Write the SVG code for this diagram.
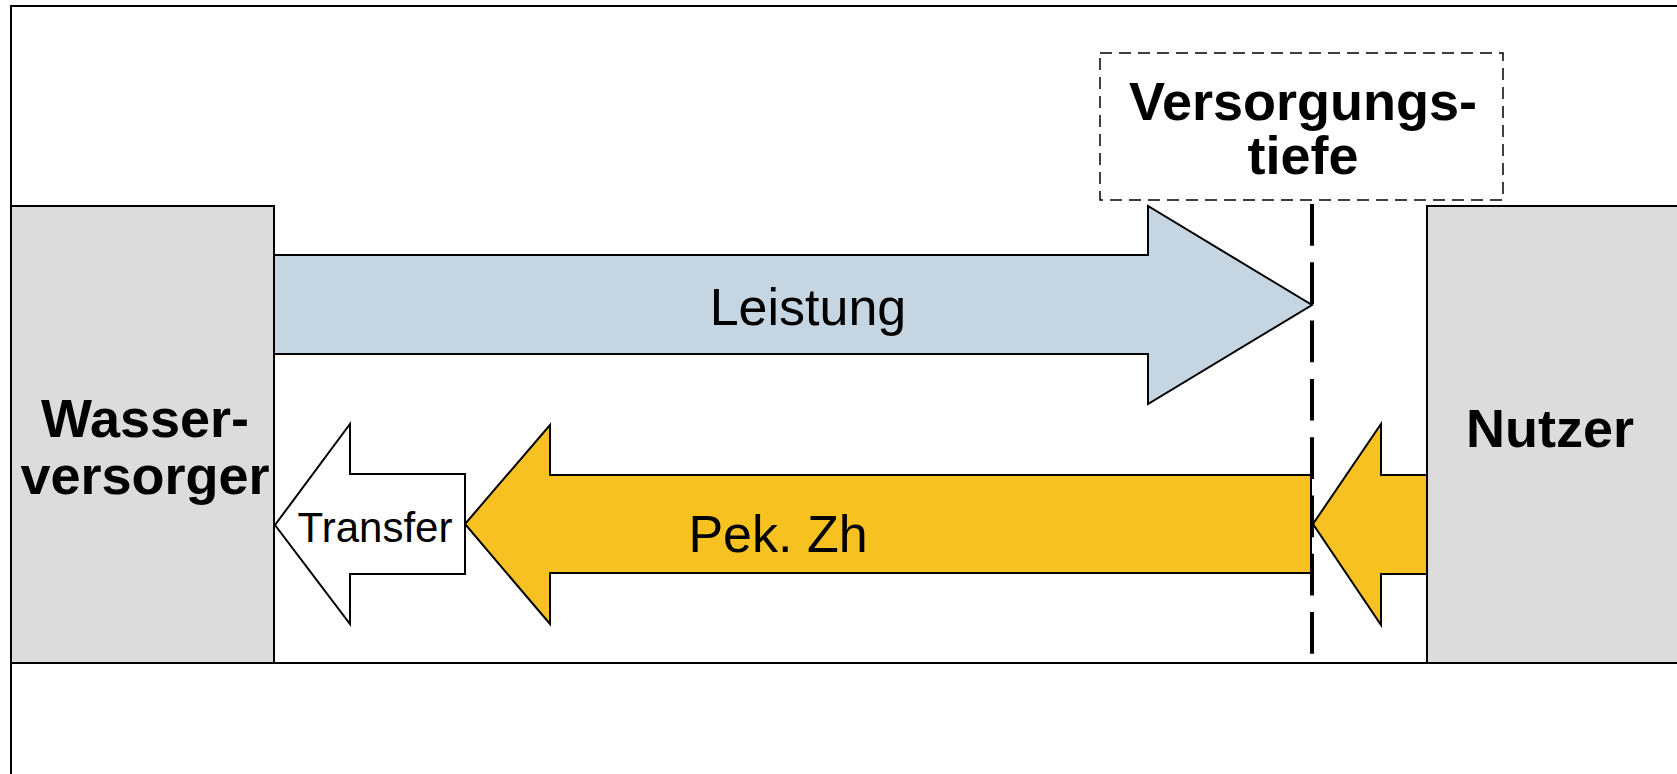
<svg xmlns="http://www.w3.org/2000/svg" width="1677" height="774" viewBox="0 0 1677 774">
<style>
.frame{fill:none;stroke:#000;stroke-width:2}
.box{fill:#dcdcdc;stroke:#000;stroke-width:2}
.arr{stroke:#000;stroke-width:2;stroke-linejoin:miter}
.bold{font-family:"Liberation Sans",Arial,sans-serif;font-weight:bold;font-size:54px;fill:#000;text-anchor:middle}
.reg{font-family:"Liberation Sans",Arial,sans-serif;font-size:52px;fill:#000;text-anchor:middle}
</style>
<rect width="1677" height="774" fill="#fff"/>
<g id="frame">
<path class="frame" d="M11,774 V6 H1677"/>
<line class="frame" x1="11" y1="663" x2="1677" y2="663"/>
</g>
<g id="wasserversorger">
<rect class="box" x="11" y="206" width="263" height="457"/>
<text class="bold" x="145" y="437">Wasser-</text>
<text class="bold" x="145" y="494">versorger</text>
</g>
<g id="nutzer">
<rect class="box" x="1427" y="206" width="260" height="457"/>
<text class="bold" x="1550" y="447">Nutzer</text>
</g>
<g id="versorgungstiefe">
<rect x="1100" y="53" width="403" height="147" fill="#fff" stroke="#000" stroke-width="1.5" stroke-dasharray="12 7"/>
<text class="bold" x="1303" y="120">Versorgungs-</text>
<text class="bold" x="1303" y="174">tiefe</text>
</g>
<g id="connectors">
<g id="leistung">
<polygon class="arr" fill="#c5d5e2" points="274,255 1148,255 1148,206 1312,305 1148,404 1148,354 274,354"/>
<text class="reg" x="808" y="325">Leistung</text>
</g>
<g id="pek-zh">
<polygon class="arr" fill="#f6c121" points="1311,475 550,475 550,425 465,524 550,624 550,573 1311,573"/>
<text class="reg" x="778" y="552">Pek. Zh</text>
</g>
<g id="nutzer-arrow">
<polygon class="arr" fill="#f6c121" points="1427,475 1381,475 1381,424 1313,524 1381,625 1381,574 1427,574"/>
</g>
<g id="transfer">
<polygon class="arr" fill="#fff" points="465,474 350,474 350,424 275,525 350,624 350,574 465,574"/>
<text class="reg" x="375" y="542" style="font-size:42px">Transfer</text>
</g>
<line id="tiefe-line" x1="1312" y1="204" x2="1312" y2="656" stroke="#000" stroke-width="4" stroke-dasharray="41.7 16.6"/>
</g>
</svg>
